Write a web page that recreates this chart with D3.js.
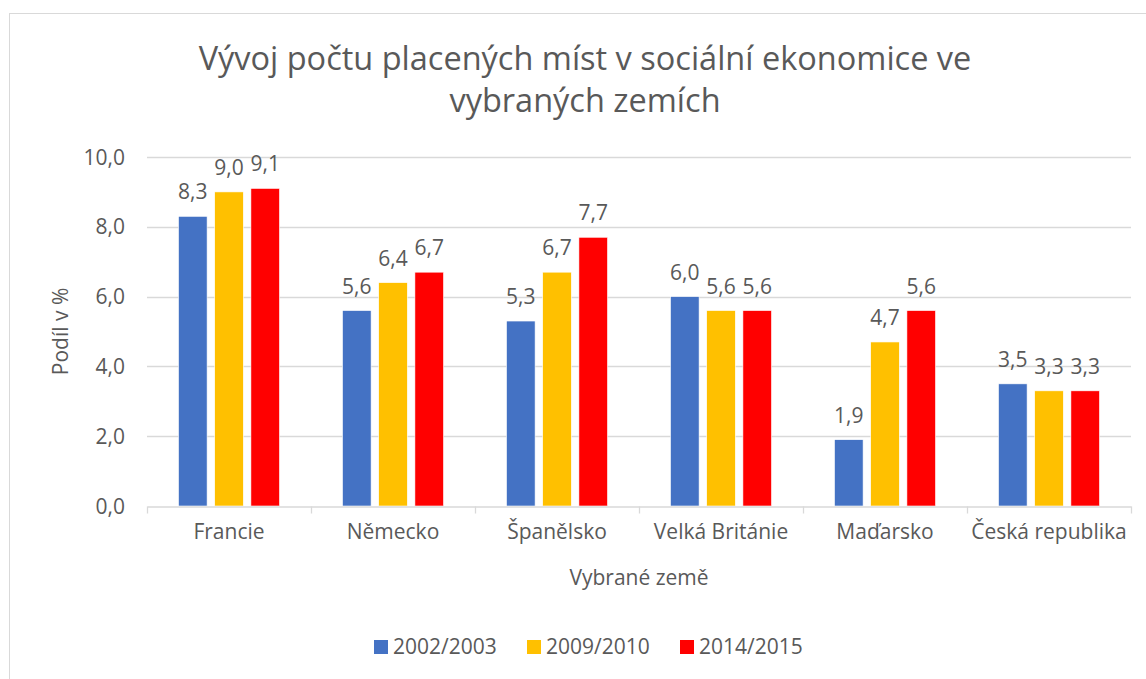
<!DOCTYPE html>
<html>
<head>
  <meta charset="utf-8">
  <title>Vývoj počtu placených míst</title>
  <script src="https://d3js.org/d3.v7.min.js"></script>
  <style type="text/css">
    body { margin: 0; background: #fff; }
    svg text { font-family: "Open Sans", "Noto Sans", sans-serif; fill: #595959; }
  </style>
</head>
<body>
  <div id="chart"></div>
  <script type="text/javascript">
    // data
    var countries = ["Francie", "Německo", "Španělsko", "Velká Británie", "Maďarsko", "Česká republika"];
    var seriesNames = ["2002/2003", "2009/2010", "2014/2015"];
    var values2002 = [8.3, 5.6, 5.3, 6.0, 1.9, 3.5];
    var values2009 = [9.0, 6.4, 6.7, 5.6, 4.7, 3.3];
    var values2014 = [9.1, 6.7, 7.7, 5.6, 5.6, 3.3];
    var colors = ["#4472C4", "#FFC000", "#FF0000"];
    var yTicks = [0, 2, 4, 6, 8, 10];

    var allValues = [values2002, values2009, values2014];
    var width = 1146, height = 679;
    var plot = { left: 147, right: 1131, top: 157, bottom: 506 };
    var fs = "21px";

    var svg = d3.select("#chart").append("svg")
      .attr("width", width)
      .attr("height", height);

    // chart border
    svg.append("rect")
      .attr("x", 9.5).attr("y", 13.5)
      .attr("width", 1160).attr("height", 700)
      .attr("fill", "#fff")
      .attr("stroke", "#d9d9d9");

    var x = d3.scaleBand().domain(countries).range([plot.left, plot.right]);
    var groupW = 101;
    var x1 = d3.scaleBand().domain(seriesNames)
      .range([(x.bandwidth() - groupW) / 2, (x.bandwidth() + groupW) / 2])
      .paddingInner(0.21);
    var y = d3.scaleLinear().domain([0, 10]).range([plot.bottom, plot.top]);
    var fmt = function (v) { return d3.format(".1f")(v).replace(".", ","); };

    // gridlines
    svg.append("g").selectAll("line")
      .data(yTicks.slice(1))
      .enter().append("line")
      .attr("x1", plot.left).attr("x2", plot.right)
      .attr("y1", function (d) { return Math.round(y(d)) + 0.5; })
      .attr("y2", function (d) { return Math.round(y(d)) + 0.5; })
      .attr("stroke", "#d9d9d9").attr("stroke-width", 1.3);

    // y axis labels
    svg.append("g").selectAll("text")
      .data(yTicks)
      .enter().append("text")
      .attr("x", 125)
      .attr("y", function (d) { return y(d); })
      .attr("dy", "0.36em")
      .attr("text-anchor", "end")
      .style("font-size", fs)
      .text(fmt);

    // bars
    var groups = svg.append("g").selectAll("g")
      .data(countries)
      .enter().append("g")
      .attr("transform", function (d) { return "translate(" + x(d) + ",0)"; });

    groups.selectAll("rect")
      .data(function (d, i) {
        return seriesNames.map(function (s, k) { return { s: s, k: k, v: allValues[k][i] }; });
      })
      .enter().append("rect")
      .attr("x", function (d) { return x1(d.s); })
      .attr("width", x1.bandwidth())
      .attr("y", function (d) { return y(d.v); })
      .attr("height", function (d) { return y(0) - y(d.v); })
      .attr("fill", function (d) { return colors[d.k]; })
      .attr("stroke", "#fff").attr("stroke-width", 0.6);

    groups.selectAll("text")
      .data(function (d, i) {
        return seriesNames.map(function (s, k) { return { s: s, k: k, v: allValues[k][i] }; });
      })
      .enter().append("text")
      .attr("x", function (d) { return x1(d.s) + x1.bandwidth() / 2; })
      .attr("y", function (d) { return y(d.v) - 17; })
      .attr("text-anchor", "middle")
      .style("font-size", fs)
      .text(function (d) { return fmt(d.v); });

    // x axis
    var xAxis = svg.append("g")
      .attr("transform", "translate(0," + (plot.bottom + 0.5) + ")")
      .call(d3.axisBottom(x).tickSize(0).tickPadding(18));
    xAxis.select(".domain").attr("stroke", "#d9d9d9").attr("stroke-width", 1.3);
    xAxis.selectAll("text").style("font-size", fs).attr("fill", "#595959");
    xAxis.selectAll(".sep")
      .data(d3.range(countries.length + 1))
      .enter().append("line")
      .attr("class", "sep")
      .attr("x1", function (i) { return Math.round(plot.left + i * x.step()) + 0.5; })
      .attr("x2", function (i) { return Math.round(plot.left + i * x.step()) + 0.5; })
      .attr("y1", 0).attr("y2", 7)
      .attr("stroke", "#d9d9d9").attr("stroke-width", 1.3);

    // axis titles
    svg.append("text")
      .attr("x", (plot.left + plot.right) / 2)
      .attr("y", 585)
      .attr("text-anchor", "middle")
      .style("font-size", fs)
      .text("Vybrané země");

    svg.append("text")
      .attr("transform", "translate(68," + ((plot.top + plot.bottom) / 2) + ") rotate(-90)")
      .attr("text-anchor", "middle")
      .style("font-size", fs)
      .text("Podíl v %");

    // title
    var title = svg.append("text")
      .attr("x", 585)
      .attr("text-anchor", "middle")
      .style("font-size", "32.5px");
    title.append("tspan").attr("x", 585).attr("y", 70).text("Vývoj počtu placených míst v sociální ekonomice ve");
    title.append("tspan").attr("x", 585).attr("y", 112).text("vybraných zemích");

    // legend
    var legendX = [374, 527, 680];
    var legend = svg.append("g").selectAll("g")
      .data(seriesNames)
      .enter().append("g")
      .attr("transform", function (d, i) { return "translate(" + legendX[i] + ",640)"; });
    legend.append("rect")
      .attr("width", 14).attr("height", 14)
      .attr("fill", function (d, i) { return colors[i]; });
    legend.append("text")
      .attr("x", 19).attr("y", 14)
      .style("font-size", fs)
      .text(function (d) { return d; });
  </script>
</body>
</html>
